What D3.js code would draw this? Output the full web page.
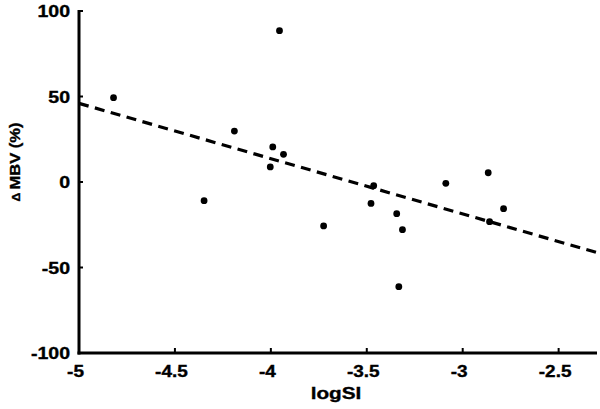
<!DOCTYPE html>
<html>
<head>
<meta charset="utf-8">
<script src="https://cdnjs.cloudflare.com/ajax/libs/d3/7.8.5/d3.min.js"></script>
<style>
  body { margin: 0; background: #fff; }
  text { font-family: "Liberation Sans", Arial, sans-serif; font-weight: bold; fill: #000; stroke: #000; stroke-width: 0.35px; }
</style>
</head>
<body>
<div id="chart"></div>
<script>
// data
var logSI = [-4.82, -4.348, -4.19, -3.99, -4.003, -3.955, -3.934, -3.725, -3.478, -3.464, -3.344, -3.314, -3.333, -3.088, -2.867, -2.86, -2.787];
var dMBV  = [49.3, -10.9, 29.8, 20.5, 8.8, 88.5, 16.2, -25.7, -12.5, -2.2, -18.5, -27.9, -61.2, -0.8, 5.4, -23.2, -15.6];
var fitX = [-5, -2.3];
var fitY = [46, -41.3];
var xTicks = [-5, -4.5, -4, -3.5, -3, -2.5];
var yTicks = [-100, -50, 0, 50, 100];

var width = 600, height = 409;
var stretch = 1.15;

var svg = d3.select("#chart").append("svg")
    .attr("width", width)
    .attr("height", height);

var x = d3.scaleLinear().domain([-5, -2.3]).range([79, 597]);
var y = d3.scaleLinear().domain([-100, 100]).range([353, 11]);

// axes
svg.append("line")
    .attr("x1", x(-5)).attr("x2", x(-5))
    .attr("y1", y(100) - 1).attr("y2", y(-100) + 1.5)
    .attr("stroke", "#000").attr("stroke-width", 3);
svg.append("line")
    .attr("x1", x(-5) - 1.5).attr("x2", x(-2.3))
    .attr("y1", y(-100)).attr("y2", y(-100))
    .attr("stroke", "#000").attr("stroke-width", 3);

// tick marks
svg.selectAll(".xtick")
    .data(xTicks.slice(1))
    .enter().append("line")
    .attr("class", "xtick")
    .attr("x1", d => x(d)).attr("x2", d => x(d))
    .attr("y1", y(-100)).attr("y2", y(-100) - 5)
    .attr("stroke", "#000").attr("stroke-width", 2);
svg.selectAll(".ytick")
    .data(yTicks.slice(1))
    .enter().append("line")
    .attr("class", "ytick")
    .attr("x1", x(-5)).attr("x2", x(-5) + 4)
    .attr("y1", d => y(d)).attr("y2", d => y(d))
    .attr("stroke", "#000").attr("stroke-width", 2);

// tick labels
svg.selectAll(".xlab")
    .data(xTicks)
    .enter().append("text")
    .attr("class", "xlab")
    .attr("transform", d => "translate(" + (x(d) - 3.5) + "," + 377 + ") scale(" + stretch + ",1)")
    .attr("text-anchor", "middle")
    .style("font-size", "16.5px")
    .text(d => d);
svg.selectAll(".ylab")
    .data(yTicks)
    .enter().append("text")
    .attr("class", "ylab")
    .attr("transform", d => "translate(70," + (y(d) + 6) + ") scale(" + stretch + ",1)")
    .attr("text-anchor", "end")
    .style("font-size", "17px")
    .text(d => d);

// axis titles
svg.append("text")
    .attr("transform", "translate(336,399) scale(1.22,1)")
    .attr("text-anchor", "middle")
    .style("font-size", "17px")
    .text("logSI");

var yt = svg.append("text")
    .attr("transform", "translate(20,162) rotate(-90) scale(1.1,1)")
    .attr("text-anchor", "middle")
    .style("font-size", "15px");
yt.append("tspan").style("font-size", "11px").text("Δ ");
yt.append("tspan").text("MBV (%)");

// regression line
var line = d3.line().x(d => x(d[0])).y(d => y(d[1]));
svg.append("path")
    .datum(d3.zip(fitX, fitY))
    .attr("d", line)
    .attr("fill", "none")
    .attr("stroke", "#000")
    .attr("stroke-width", 3.2)
    .attr("stroke-dasharray", "10,6.5");

// points
svg.selectAll(".dot")
    .data(d3.zip(logSI, dMBV))
    .enter().append("circle")
    .attr("class", "dot")
    .attr("cx", d => x(d[0]))
    .attr("cy", d => y(d[1]))
    .attr("r", 3.4)
    .attr("fill", "#000");
</script>
</body>
</html>
